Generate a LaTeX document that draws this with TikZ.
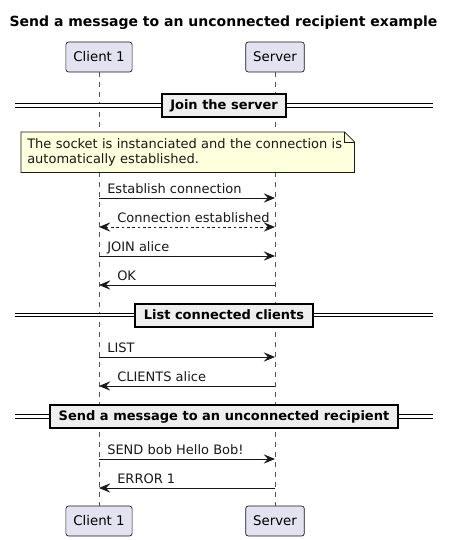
\documentclass[tikz,border=0pt]{standalone}
\usepackage{fontspec}
\setmainfont{DejaVu Sans}
\usetikzlibrary{arrows.meta,positioning,calc,backgrounds}
\definecolor{partfill}{HTML}{E2E2F0}
\definecolor{edge}{HTML}{181818}
\definecolor{notefill}{HTML}{FEFFDD}
\definecolor{divfill}{HTML}{EEEEEE}
\tikzset{
  participant/.style={draw=edge,fill=partfill,line width=0.5pt,rounded corners=2pt,
    minimum height=22.5pt,inner xsep=5.6pt,font=\fontsize{10}{12}\selectfont},
  lifeline/.style={edge!75,line width=0.4pt,dash pattern=on 3.75pt off 3.75pt},
  tip/.tip={Stealth[length=8.5pt,width=7pt,inset=3.2pt]},
  msg/.style={edge,line width=0.75pt,-tip},
  reply/.style={edge,line width=0.75pt,dash pattern=on 2pt off 2pt,tip-tip},
  msglabel/.style={font=\fontsize{9.75}{11}\selectfont,inner sep=0pt,anchor=base west,text=edge},
  divider/.style={draw=black,line width=1.5pt,fill=divfill,font=\bfseries\fontsize{9.75}{11}\selectfont,
    minimum height=17.25pt,inner xsep=6.5pt},
  divline/.style={draw=black,double=white,double distance=2pt,line width=0.75pt},
  notebox/.style={font=\fontsize{9.75}{11.25}\selectfont,align=left,text width=240.75pt,
    inner xsep=4.5pt,inner ysep=0pt,minimum height=30pt,text=edge},
}
\begin{document}
\begin{tikzpicture}[x=0.75pt,y=-0.75pt]
  \useasboundingbox (0,0) rectangle (454,540);
  \node[font=\bfseries\fontsize{10.5}{12}\selectfont] (title) at (223.5,23) {Send a message to an unconnected recipient example};

  % participants, top and bottom
  \node[participant] (client) at (99,57) {Client 1};
  \node[participant] (server) at (275,57) {Server};
  \node[participant] (clientb) at (99,521) {Client 1};
  \node[participant] (serverb) at (275,521) {Server};

  % section dividers
  \foreach \y/\nm/\lab in {105.5/join/Join the server, 315/list/List connected clients,
                           416.5/send/Send a message to an unconnected recipient}{
    \draw[divline] (15,\y) -- (433,\y);
    \node[divider] (\nm) at (224,\y) {\lab};
  }

  % note, lifelines behind it
  \node[notebox,anchor=north west] (note) at (21,132) {The socket is instanciated and the connection is\\automatically established.};
  \begin{scope}[on background layer]
    \draw[lifeline] (client.south) -- (clientb.north);
    \draw[lifeline] (server.south) -- (serverb.north);
    \draw[edge,line width=0.5pt,fill=notefill] (note.north west) -- ([xshift=-7.5pt]note.north east)
      -- ([yshift=-7.5pt]note.north east) -- (note.south east) -- (note.south west) -- cycle;
    \draw[edge,line width=0.5pt] ([xshift=-7.5pt]note.north east) |- ([yshift=-7.5pt]note.north east);
  \end{scope}

  % messages
  \foreach \y/\src/\dst/\kind/\dx/\lab in {198/client/server/msg/8/Establish connection,
      227/server/client/reply/18/Connection established, 256/client/server/msg/8/JOIN alice,
      285/server/client/msg/18/OK, 357/client/server/msg/8/LIST, 386/server/client/msg/18/CLIENTS alice,
      459/client/server/msg/8/SEND bob Hello Bob!, 488/server/client/msg/18/ERROR 1}{
    \draw[\kind] (\src |- 0,\y) -- (\dst |- 0,\y);
    \node[msglabel] (lab\y) at ($(client |- 0,\y)+(\dx,-5)$) {\lab};
  }
\end{tikzpicture}
\end{document}
